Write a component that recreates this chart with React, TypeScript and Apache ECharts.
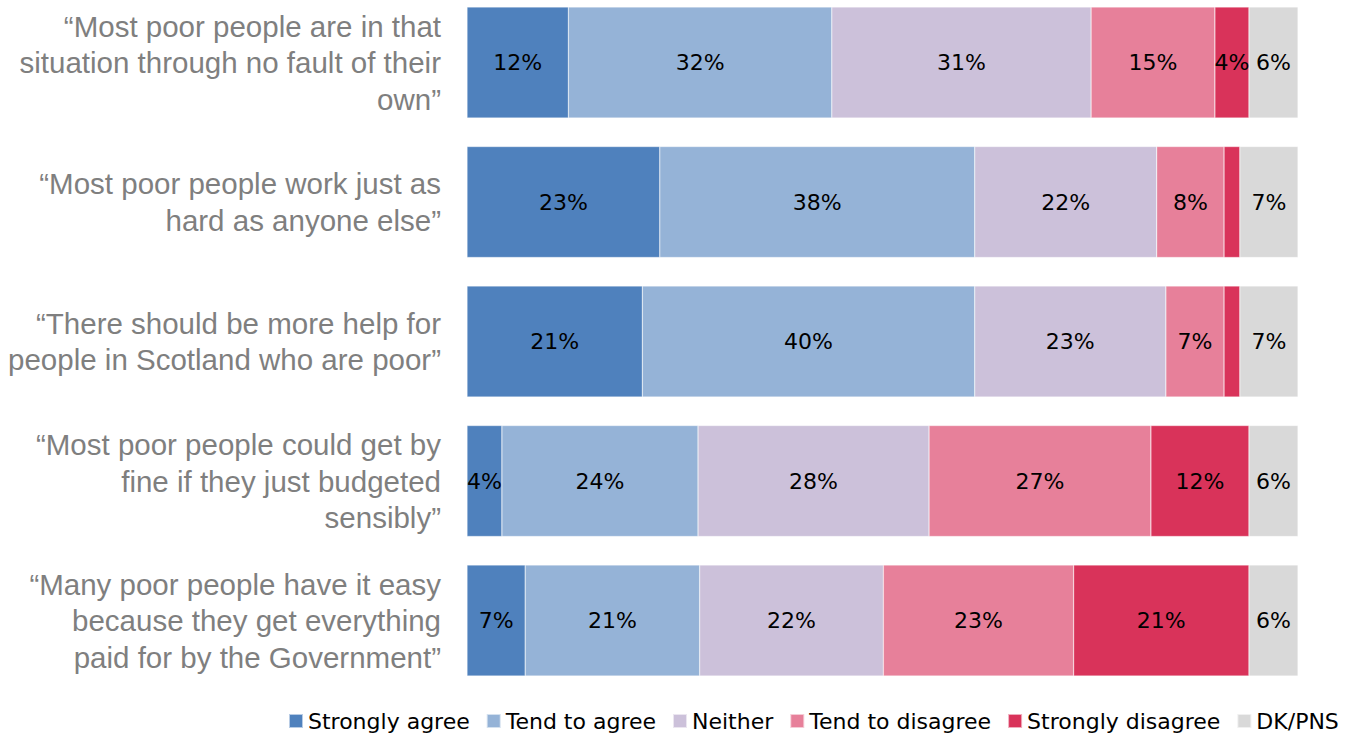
import React, { useEffect, useRef } from "react";
import * as echarts from "echarts";

const categories = [
  "“Most poor people are in that\nsituation through no fault of their\nown”",
  "“Most poor people work just as\nhard as anyone else”",
  "“There should be more help for\npeople in Scotland who are poor”",
  "“Most poor people could get by\nfine if they just budgeted\nsensibly”",
  "“Many poor people have it easy\nbecause they get everything\npaid for by the Government”",
];

const seriesNames = [
  "Strongly agree",
  "Tend to agree",
  "Neither",
  "Tend to disagree",
  "Strongly disagree",
  "DK/PNS",
];

const stronglyAgree = [12.2, 23.2, 21.1, 4.2, 7.0];
const tendToAgree = [31.7, 37.9, 40.0, 23.6, 21.0];
const neither = [31.2, 21.9, 23.0, 27.8, 22.1];
const tendToDisagree = [14.9, 8.1, 7.0, 26.7, 22.9];
const stronglyDisagree = [4.1, 1.9, 1.9, 11.8, 21.1];
const dkPns = [5.9, 7.0, 7.0, 5.9, 5.9];

const colors = ["#4F81BD", "#95B3D7", "#CCC1DA", "#E7809A", "#D9335A", "#D9D9D9"];

export default function App() {
  const ref = useRef<HTMLDivElement>(null);
  useEffect(() => {
    document.body.style.margin = "0";
    if (!ref.current) return;
    const chart = echarts.init(ref.current, null, { renderer: "svg" });
    const allData = [stronglyAgree, tendToAgree, neither, tendToDisagree, stronglyDisagree, dkPns];
    chart.setOption({
      animation: false,
      grid: { left: 467, right: 60, top: 62.5, height: 558, containLabel: false },
      xAxis: { type: "value", min: 0, max: 100, show: false },
      yAxis: {
        type: "category",
        data: categories,
        inverse: true,
        boundaryGap: false,
        axisLine: { show: false },
        axisTick: { show: false },
        splitLine: { show: false },
        axisLabel: {
          fontFamily: "Liberation Sans",
          fontSize: 29.5,
          lineHeight: 36.5,
          color: "#7F7F7F",
          align: "right",
          margin: 26,
        },
      },
      legend: {
        bottom: 3,
        left: 283,
        width: 1075,
        itemWidth: 14,
        itemHeight: 14,
        itemGap: 16,
        icon: "rect",
        textStyle: { fontFamily: "DejaVu Sans", fontSize: 22, color: "#000" },
        data: seriesNames,
      },
      series: seriesNames.map((name, i) => ({
        name,
        type: "bar",
        stack: "total",
        barWidth: 111,
        clip: false,
        data: allData[i],
        itemStyle: { color: colors[i], borderColor: "rgba(255,255,255,0.6)", borderWidth: 0.5 },
        label: {
          show: true,
          position: "inside",
          fontFamily: "DejaVu Sans",
          fontSize: 22,
          color: "#000",
          formatter: (p: any) => (p.value < 3 ? "" : Math.round(p.value) + "%"),
        },
      })),
    });
    return () => chart.dispose();
  }, []);
  return <div ref={ref} style={{ width: 1358, height: 740 }} />;
}
